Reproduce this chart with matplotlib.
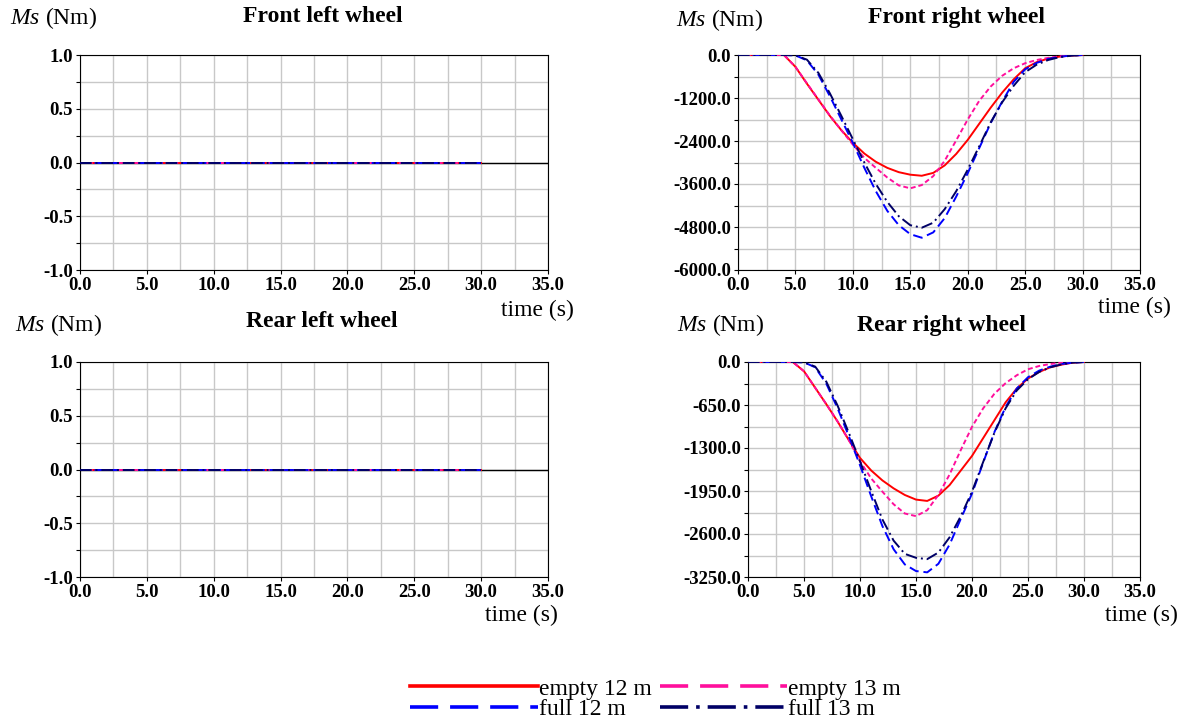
import numpy as np
import matplotlib
matplotlib.use("Agg")
import matplotlib.pyplot as plt
from matplotlib.lines import Line2D
from matplotlib.ticker import MultipleLocator, FormatStrFormatter

plt.rcParams['font.family'] = 'Liberation Serif'
plt.rcParams['mathtext.fontset'] = 'custom'
plt.rcParams['mathtext.it'] = 'Liberation Serif:italic'
plt.rcParams['mathtext.rm'] = 'Liberation Serif'

# time (s)
t = np.arange(0, 31)

labels = ["empty 12 m", "empty 13 m", "full 12 m", "full 13 m"]

# left wheels: no aligning moment
fl_empty12 = [0] * 31
fl_empty13 = [0] * 31
fl_full12 = [0] * 31
fl_full13 = [0] * 31

# front right wheel (Nm)
fr_empty12 = [0, 0, 0, 0, 0, -330, -800, -1250, -1700, -2100, -2450, -2750, -2980, -3150, -3270, -3340,
              -3370, -3290, -3080, -2760, -2370, -1920, -1470, -1050, -680, -370, -200, -100, -45, -15, 0]
fr_empty13 = [0, 0, 0, 0, 0, -330, -790, -1240, -1690, -2100, -2500, -2870, -3150, -3420, -3640, -3720,
              -3630, -3380, -2950, -2380, -1800, -1280, -880, -580, -370, -230, -140, -80, -40, -10, 0]
fr_full12 = [0, 0, 0, 0, 0, -10, -150, -550, -1150, -1800, -2450, -3150, -3800, -4350, -4750, -5000,
             -5100, -4950, -4550, -3950, -3300, -2600, -1900, -1300, -750, -400, -220, -110, -50, -15, 0]
fr_full13 = [0, 0, 0, 0, 0, -10, -130, -500, -1070, -1700, -2350, -3000, -3600, -4100, -4500, -4750,
             -4820, -4680, -4300, -3800, -3200, -2550, -1880, -1320, -860, -480, -270, -140, -60, -20, 0]

# rear right wheel (Nm)
rr_empty12 = [0, 0, 0, 0, 0, -140, -390, -640, -900, -1180, -1450, -1640, -1790, -1910, -2010, -2080,
              -2100, -2020, -1860, -1640, -1420, -1150, -880, -610, -400, -250, -150, -80, -40, -10, 0]
rr_empty13 = [0, 0, 0, 0, 0, -140, -390, -640, -900, -1180, -1500, -1760, -1960, -2150, -2290, -2330,
              -2240, -2010, -1700, -1330, -980, -700, -480, -320, -200, -110, -60, -30, -10, 0, 0]
rr_full12 = [0, 0, 0, 0, 0, -5, -80, -330, -700, -1120, -1560, -2030, -2480, -2830, -3060, -3160,
             -3180, -3050, -2760, -2370, -1990, -1520, -1060, -680, -400, -230, -130, -70, -30, -10, 0]
rr_full13 = [0, 0, 0, 0, 0, -5, -70, -300, -660, -1070, -1500, -1950, -2380, -2700, -2900, -2960,
             -2980, -2880, -2650, -2330, -1960, -1510, -1070, -700, -430, -260, -150, -80, -35, -10, 0]

colors = ['#ff0000', '#ff0f9c', '#0000ff', '#000066']
styles = ['-', (0, (2.5, 1.5)), (0, (5, 2.5)), (0, (6, 2, 1, 2))]

W, H = 1186, 725

def px(x0, y0, x1, y1):
    # pixel box -> figure fraction [left, bottom, width, height]
    return [x0 / W, 1 - y1 / H, (x1 - x0) / W, (y1 - y0) / H]

fig = plt.figure(figsize=(W / 100, H / 100), dpi=100)

panels = [
    ("Front left wheel", px(80, 55, 548, 270), (fl_empty12, fl_empty13, fl_full12, fl_full13), (-1, 1), 0.5),
    ("Front right wheel", px(738, 55, 1140, 270), (fr_empty12, fr_empty13, fr_full12, fr_full13), (-6000, 0), 1200),
    ("Rear left wheel", px(80, 362, 548, 577), (fl_empty12, fl_empty13, fl_full12, fl_full13), (-1, 1), 0.5),
    ("Rear right wheel", px(748, 362, 1140, 577), (rr_empty12, rr_empty13, rr_full12, rr_full13), (-3250, 0), 650),
]

for title, rect, series, ylim, ystep in panels:
    ax = fig.add_axes(rect)
    if ylim[0] < 0 < ylim[1]:
        ax.axhline(0, color='black', lw=1, zorder=2)
    for s, c, ls in zip(series, colors, styles):
        ax.plot(t, s, color=c, linestyle=ls, lw=1.4, zorder=3)
    ax.set_xlim(0, 35)
    ax.set_ylim(*ylim)
    ax.xaxis.set_major_locator(MultipleLocator(5))
    ax.xaxis.set_minor_locator(MultipleLocator(2.5))
    ax.yaxis.set_major_locator(MultipleLocator(ystep))
    ax.yaxis.set_minor_locator(MultipleLocator(ystep / 2))
    ax.xaxis.set_major_formatter(FormatStrFormatter('%.1f'))
    ax.yaxis.set_major_formatter(FormatStrFormatter('%.1f'))
    ax.grid(True, which='both', color='#c8c8c8', lw=1)
    ax.set_axisbelow(True)
    ax.tick_params(which='both', direction='out', length=3, width=0.8, labelsize=13.5, pad=2)
    ax.tick_params(axis='x', which='minor', length=0)
    for lab in ax.get_xticklabels() + ax.get_yticklabels():
        lab.set_fontweight('bold')
    for sp in ax.spines.values():
        sp.set_color('black')
        sp.set_linewidth(0.8)

def ftext(x, y, s, **kw):
    fig.text(x / W, 1 - y / H, s, va='center', fontsize=17, **kw)

# titles and axis names
ftext(323, 16, "Front left wheel", ha='center', fontweight='bold')
ftext(956, 17, "Front right wheel", ha='center', fontweight='bold')
ftext(322, 321, "Rear left wheel", ha='center', fontweight='bold')
ftext(942, 325, "Rear right wheel", ha='center', fontweight='bold')
for x, y in [(10, 18), (676, 20), (15, 325), (677, 325)]:
    ftext(x, y, r"$Ms$ (Nm)", ha='left')
for x, y in [(537, 310), (1134, 307), (521, 615), (1141, 615)]:
    ftext(x, y, "time (s)", ha='center')

# legend
leg_styles = ['-', (0, (7.8, 3.3)), (0, (7.8, 3.3)), (0, (7.8, 2.2, 1, 2.2))]
handles = [Line2D([], [], color=c, linestyle=ls, lw=2.6) for c, ls in zip(colors, leg_styles)]
order = [0, 2, 1, 3]
fig.legend([handles[i] for i in order], [labels[i] for i in order], ncol=2, frameon=False,
           loc='upper left', bbox_to_anchor=(410 / W, 1 - 678 / H), fontsize=17,
           handlelength=5.4, handletextpad=0.05, columnspacing=0.35,
           labelspacing=-0.05, borderpad=0, borderaxespad=0)

fig.savefig("out.png", dpi=100)
